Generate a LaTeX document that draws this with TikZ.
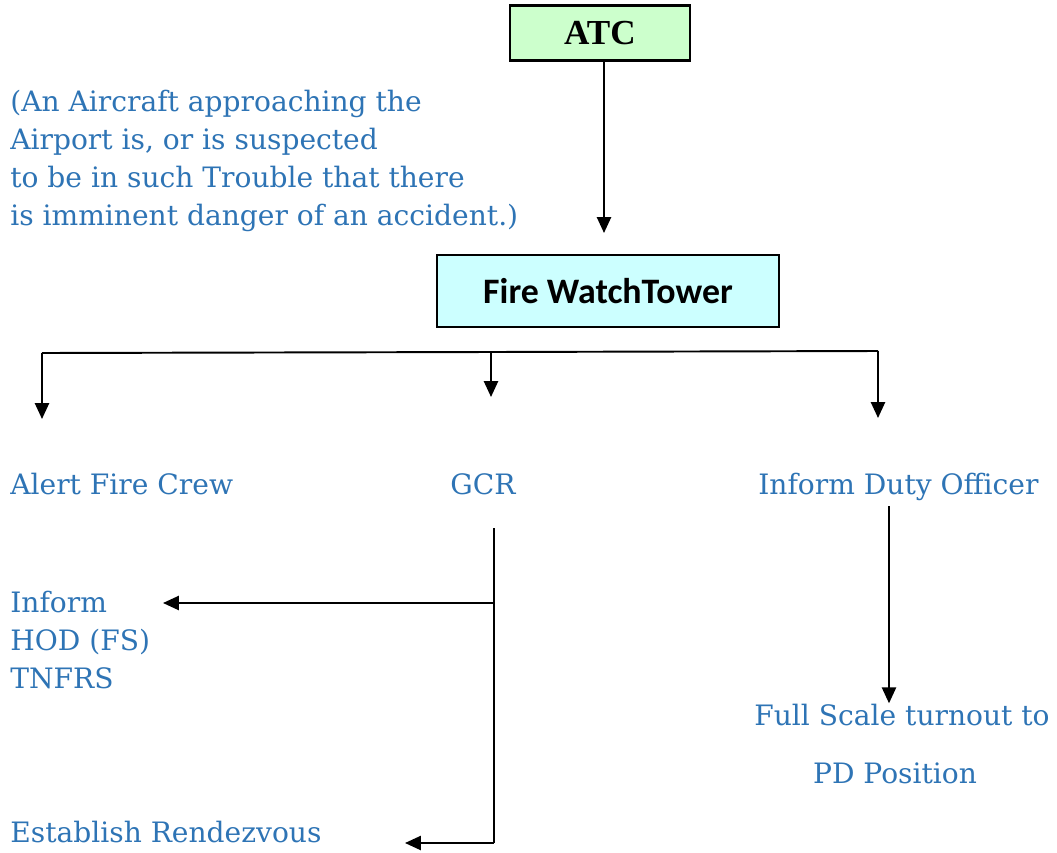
\documentclass[tikz,border=0pt]{standalone}
\usepackage{fontspec}
\setmainfont{DejaVu Serif}
\newfontfamily\towerfont{Carlito}
\newfontfamily\atcfont{Liberation Serif}
\usetikzlibrary{arrows.meta,calc,positioning}
\newcommand{\textsz}{\fontsize{16}{21.6}\selectfont}
\definecolor{noteBlue}{RGB}{46,116,181}
\definecolor{atcGreen}{RGB}{204,255,204}
\definecolor{towerCyan}{RGB}{204,255,255}
\tikzset{
  >={Triangle[length=9pt,width=8pt]},
  x=0.02cm,y=-0.02cm,
  atcbox/.style={draw,fill=atcGreen,line width=1.2pt,minimum width=180*0.02cm,minimum height=55*0.02cm,font=\atcfont\bfseries\fontsize{20}{22}\selectfont},
  towerbox/.style={draw,fill=towerCyan,line width=1.2pt,minimum width=342*0.02cm,minimum height=72*0.02cm,font=\towerfont\bfseries\fontsize{20.4}{24}\selectfont},
  note/.style={text=noteBlue,font=\textsz,inner sep=0,align=left},
  line/.style={draw,line width=1.1pt},
}
\begin{document}
\begin{tikzpicture}
  \useasboundingbox (0,0) rectangle (1057,852);
  \node (atc) [atcbox] at (600,33) {ATC};
  \node (tower) [towerbox] at (608,291) {Fire WatchTower};
  \node (cause) [note,anchor=base west] at (10,225) {(An Aircraft approaching the\\Airport is, or is suspected\\to be in such Trouble that there\\is imminent danger of an accident.)};
  \coordinate (towertop) at (604,233);
  \path [line,->] (atc.south -| towertop) -- (towertop);
  % branch line under the tower
  \coordinate (bl) at (42,353);
  \coordinate (bm) at (491,352);
  \coordinate (br) at (878,351);
  \path [line] (bl) -- (bm) -- (br);
  \node (crew) [note,anchor=base west] at (10,494) {Alert Fire Crew};
  \node (gcr) [note,anchor=base] at (483,494) {GCR};
  \node (duty) [note,anchor=base west] at (758,494) {Inform Duty Officer};
  \path [line,->] (bl) -- ++(0,66);
  \path [line,->] (bm) -- ++(0,45);
  \path [line,->] (br) -- ++(0,67);
  % GCR branch
  \node (hod) [note,anchor=base west] at (10,688) {Inform\\HOD (FS)\\TNFRS};
  \node (rdv) [note,anchor=base west] at (10,842) {Establish Rendezvous};
  \coordinate (gtop) at (494,528);
  \coordinate (gmid) at (494,603);
  \coordinate (gbot) at (494,843);
  \path [line] (gtop) -- (gbot);
  \path [line,->] (gmid) -- (163,603);
  \path [line,->] (gbot) -- (405,843);
  % duty officer branch
  \node (turn) [note,anchor=base] at (902,725) {Full Scale turnout to};
  \node (pd) [note,anchor=base] at (895,783) {PD Position};
  \coordinate (dtop) at (889,506);
  \path [line,->] (dtop) -- (dtop |- turn.north);
\end{tikzpicture}
\end{document}
